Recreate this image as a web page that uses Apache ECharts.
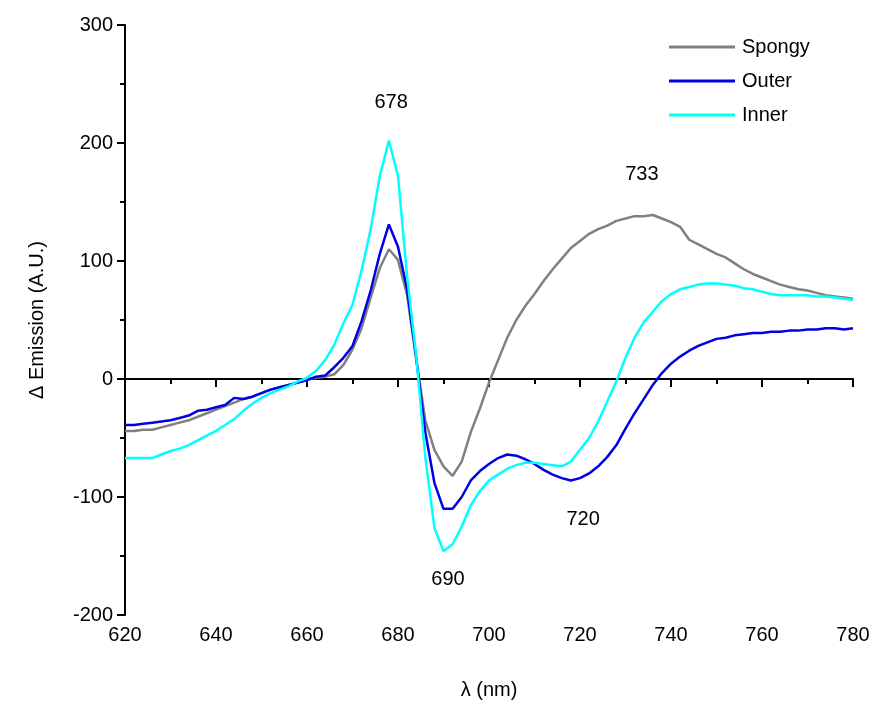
<!DOCTYPE html>
<html>
<head>
<meta charset="utf-8">
<script src="https://cdn.jsdelivr.net/npm/echarts@6/dist/echarts.min.js"></script>
<style>html,body{margin:0;padding:0;background:#fff}#c{width:877px;height:708px}</style>
</head>
<body>
<div id="c"></div>
<script>
var wavelengths = [620,622,624,626,628,630,632,634,636,638,640,642,644,646,648,650,652,654,656,658,660,662,664,666,668,670,672,674,676,678,680,682,684,686,688,690,692,694,696,698,700,702,704,706,708,710,712,714,716,718,720,722,724,726,728,730,732,734,736,738,740,742,744,746,748,750,752,754,756,758,760,762,764,766,768,770,772,774,776,778,780];

var spongy = [-44,-44,-43,-43,-41,-39,-37,-35,-32,-29,-26,-23,-20,-17,-15,-12,-9,-7,-5,-3,0,1,2,4,12,25,43,69,94,110,101,71,17,-35,-60,-74,-82,-70,-45,-25,-3,16,35,50,62,72,83,93,102,111,117,123,127,130,134,136,138,138,139,136,133,129,118,114,110,106,103,98,93,89,86,83,80,78,76,75,73,71,70,69,68];

var outer = [-39,-39,-38,-37,-36,-35,-33,-31,-27,-26,-24,-22,-16,-17,-15,-12,-9,-7,-5,-3,-1,2,3,10,18,28,49,75,106,131,112,76,18,-45,-88,-110,-110,-100,-86,-78,-72,-67,-64,-65,-68,-72,-77,-81,-84,-86,-84,-80,-74,-66,-56,-42,-29,-17,-5,5,13,19,24,28,31,34,35,37,38,39,39,40,40,41,41,42,42,43,43,42,43];

var inner = [-67,-67,-67,-67,-64,-61,-59,-56,-52,-48,-44,-39,-34,-27,-21,-16,-12,-9,-6,-2,1,7,16,29,47,63,92,127,172,202,172,87,20,-66,-126,-146,-140,-125,-107,-95,-86,-81,-76,-73,-71,-71,-72,-73,-74,-70,-60,-50,-36,-19,-2,18,35,48,57,66,72,76,78,80,81,81,80,79,77,76,74,72,71,71,71,71,70,70,69,68,67];

var seriesNames = ['Spongy','Outer','Inner'];
var seriesColors = ['#808080','#0000e6','#00ffff'];
var peakLabelText = ['678','733','690','720'];
var peakLabelX = [678.5, 733.6, 691, 720.7];
var peakLabelY = [234, 173, -170, -119];
var xTicks = [620,640,660,680,700,720,740,760,780];

function pairs(vals){ return wavelengths.map(function(w,i){ return [w, vals[i]]; }); }
var allVals = [spongy, outer, inner];

var chart = echarts.init(document.getElementById('c'));
var FONT = 'Liberation Sans, Arial, sans-serif';
var series = seriesNames.map(function(n,i){
  return {
    name:n, type:'line', data:pairs(allVals[i]), showSymbol:false, symbol:'none',
    lineStyle:{color:seriesColors[i], width:2.5}, itemStyle:{color:seriesColors[i]},
    z: 3+i, animation:false
  };
});
series[0].markLine = {
  silent:true, symbol:['none','none'], label:{show:false},
  lineStyle:{color:'#000', width:2, type:'solid'},
  data:[{yAxis:0}], z:1
};

chart.setOption({
  backgroundColor:'#fff',
  animation:false,
  grid:{left:125, right:24, top:25, bottom:93},
  legend:{
    data:seriesNames, orient:'vertical', left:664, top:32,
    icon:'rect', itemWidth:66, itemHeight:3, itemGap:14,
    textStyle:{fontSize:20, lineHeight:20, fontFamily:FONT, color:'#000', padding:[0,0,0,2]}
  },
  xAxis:{
    type:'value', min:620, max:780, interval:20,
    name:'λ (nm)', nameLocation:'middle', nameGap:65,
    nameTextStyle:{fontSize:20, fontFamily:FONT, color:'#000'},
    axisLine:{lineStyle:{color:'#000', width:2}},
    axisTick:{show:true, length:8, lineStyle:{color:'#000', width:2}},
    minorTick:{show:true, splitNumber:2, length:5, lineStyle:{color:'#000', width:2}},
    axisLabel:{fontSize:20, fontFamily:FONT, color:'#000', margin:10, customValues: xTicks},
    splitLine:{show:false}
  },
  yAxis:{
    type:'value', min:-200, max:300, interval:100,
    name:'Δ Emission (A.U.)', nameLocation:'middle', nameGap:78,
    nameTextStyle:{fontSize:20, fontFamily:FONT, color:'#000'},
    axisLine:{show:true, lineStyle:{color:'#000', width:2}},
    axisTick:{show:true, length:8, lineStyle:{color:'#000', width:2}},
    minorTick:{show:true, splitNumber:2, length:5, lineStyle:{color:'#000', width:2}},
    axisLabel:{fontSize:20, fontFamily:FONT, color:'#000', margin:12},
    splitLine:{show:false}
  },
  series:series
});

var texts = peakLabelText.map(function(t,i){
  var p = chart.convertToPixel({gridIndex:0}, [peakLabelX[i], peakLabelY[i]]);
  return {type:'text', x:p[0], y:p[1], silent:true, z:100,
    style:{text:t, fill:'#000', font:'20px ' + FONT, align:'center', verticalAlign:'middle'}};
});
chart.setOption({graphic:{elements:texts}});
</script>
</body>
</html>
